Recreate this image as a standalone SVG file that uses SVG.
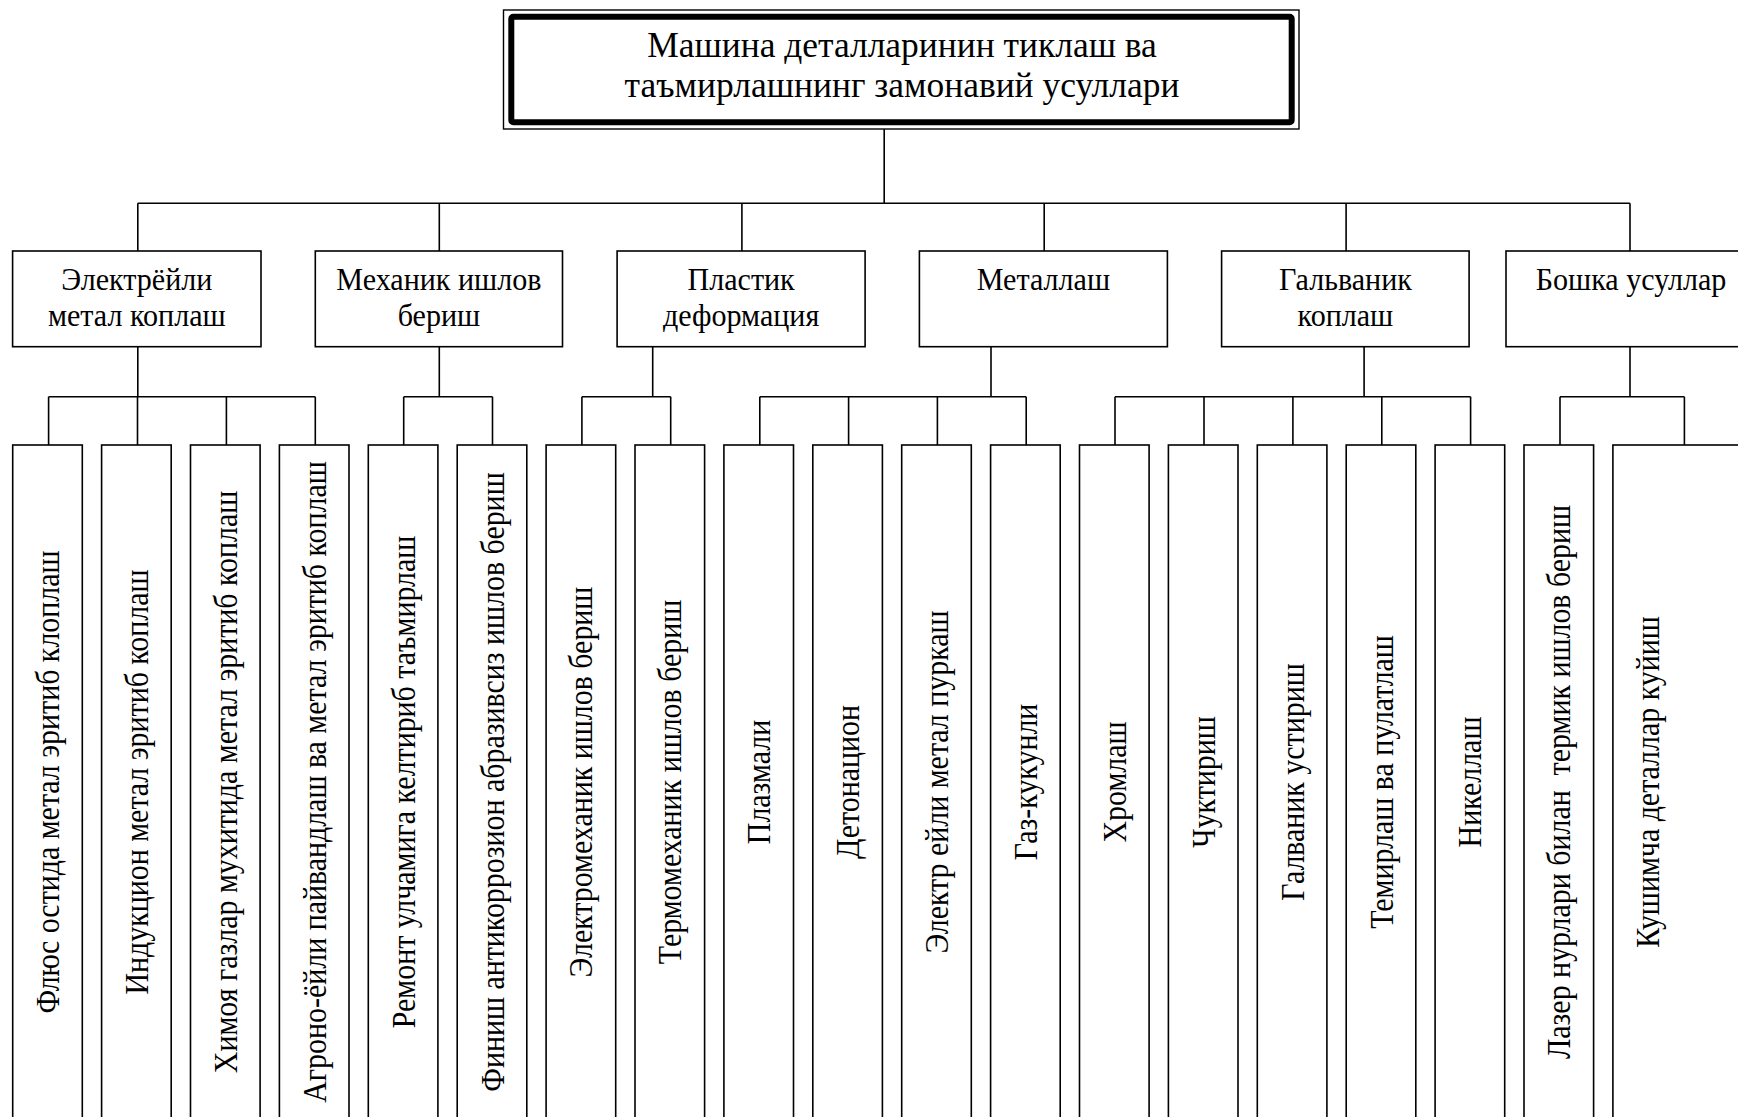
<svg xmlns="http://www.w3.org/2000/svg" width="1738" height="1117" viewBox="0 0 1738 1117">
<style>
.bx{fill:#fff;stroke:#000;stroke-width:1.6}
.ln{fill:none;stroke:#000;stroke-width:1.6}
.t{font-family:"Liberation Serif","Times New Roman",serif;font-size:34px;fill:#000;text-anchor:middle}
.th{font-family:"Liberation Serif","Times New Roman",serif;font-size:32px;fill:#000;text-anchor:middle}
.tr{font-family:"Liberation Serif","Times New Roman",serif;font-size:36px;fill:#000;text-anchor:middle}
</style>
<rect width="1738" height="1117" fill="#fff"/>
<g id="connectors" class="ln">
<path d="M884.2,129 V203.3 M137.8,203.3 H1630 M137.8,203.3 V251 M439.3,203.3 V251 M741.9,203.3 V251 M1044.2,203.3 V251 M1346.1,203.3 V251 M1630,203.3 V251"/>
<path d="M137.8,346.7 V396.7 M48.6,396.7 H315.3 M48.6,396.7 V445 M137.5,396.7 V445 M226.4,396.7 V445 M315.3,396.7 V445"/>
<path d="M439.3,346.7 V396.7 M403.7,396.7 H492.5 M403.7,396.7 V445 M492.5,396.7 V445"/>
<path d="M652.7,346.7 V396.7 M581.9,396.7 H670.7 M581.9,396.7 V445 M670.7,396.7 V445"/>
<path d="M991,346.7 V396.7 M759.8,396.7 H1026.2 M759.8,396.7 V445 M848.6,396.7 V445 M937.4,396.7 V445 M1026.2,396.7 V445"/>
<path d="M1364.1,346.7 V396.7 M1115,396.7 H1470.6 M1115,396.7 V445 M1204,396.7 V445 M1292.9,396.7 V445 M1381.8,396.7 V445 M1470.6,396.7 V445"/>
<path d="M1630,346.7 V396.7 M1560,396.7 H1684.4 M1560,396.7 V445 M1684.4,396.7 V445"/>
</g>
<g id="root">
<rect x="503.5" y="10" width="795.5" height="119" fill="#fff" stroke="#000" stroke-width="1.4"/>
<rect x="511.3" y="16.7" width="780.4" height="105.5" rx="2" fill="#fff" stroke="#000" stroke-width="6"/>
<text class="tr" transform="translate(902,57) scale(0.985,1)">Машина деталларинин тиклаш ва</text>
<text class="tr" transform="translate(902,97) scale(0.985,1)">таъмирлашнинг замонавий усуллари</text>
</g>
<g id="n1"><rect class="bx" x="12.6" y="251" width="248.4" height="95.7"/><text class="th" transform="translate(136.8,290) scale(0.94,1)">Электрёйли</text><text class="th" transform="translate(136.8,326) scale(0.94,1)">метал коплаш</text></g>
<g id="n2"><rect class="bx" x="315.3" y="251" width="247.2" height="95.7"/><text class="th" transform="translate(438.9,290) scale(0.94,1)">Механик ишлов</text><text class="th" transform="translate(438.9,326) scale(0.94,1)">бериш</text></g>
<g id="n3"><rect class="bx" x="617.1" y="251" width="248" height="95.7"/><text class="th" transform="translate(741.1,290) scale(0.94,1)">Пластик</text><text class="th" transform="translate(741.1,326) scale(0.94,1)">деформация</text></g>
<g id="n4"><rect class="bx" x="919.4" y="251" width="248" height="95.7"/><text class="th" transform="translate(1043.4,290) scale(0.94,1)">Металлаш</text></g>
<g id="n5"><rect class="bx" x="1221.6" y="251" width="247.5" height="95.7"/><text class="th" transform="translate(1345.4,290) scale(0.94,1)">Гальваник</text><text class="th" transform="translate(1345.4,326) scale(0.94,1)">коплаш</text></g>
<g id="n6"><rect class="bx" x="1506" y="251" width="250" height="95.7"/><text class="th" transform="translate(1631,290) scale(0.94,1)">Бошка усуллар</text></g>
<g id="c0"><rect class="bx" x="12.7" y="445" width="69.6" height="700"/><text class="t" transform="translate(59,782) rotate(-90) scale(0.88,1)">Флюс остида метал эритиб клоплаш</text></g>
<g id="c1"><rect class="bx" x="101.6" y="445" width="69.6" height="700"/><text class="t" transform="translate(147.9,782) rotate(-90) scale(0.88,1)">Индукцион метал эритиб коплаш</text></g>
<g id="c2"><rect class="bx" x="190.5" y="445" width="69.6" height="700"/><text class="t" transform="translate(236.8,782) rotate(-90) scale(0.88,1)">Химоя газлар мухитида метал эритиб коплаш</text></g>
<g id="c3"><rect class="bx" x="279.4" y="445" width="69.6" height="700"/><text class="t" transform="translate(325.7,782) rotate(-90) scale(0.88,1)">Агроно-ёйли пайвандлаш ва метал эритиб коплаш</text></g>
<g id="c4"><rect class="bx" x="368.3" y="445" width="69.6" height="700"/><text class="t" transform="translate(414.6,782) rotate(-90) scale(0.88,1)">Ремонт улчамига келтириб таъмирлаш</text></g>
<g id="c5"><rect class="bx" x="457.2" y="445" width="69.6" height="700"/><text class="t" transform="translate(503.5,782) rotate(-90) scale(0.88,1)">Финиш антикоррозион абразивсиз ишлов бериш</text></g>
<g id="c6"><rect class="bx" x="546.1" y="445" width="69.6" height="700"/><text class="t" transform="translate(592.4,782) rotate(-90) scale(0.88,1)">Электромеханик ишлов бериш</text></g>
<g id="c7"><rect class="bx" x="635" y="445" width="69.6" height="700"/><text class="t" transform="translate(681.3,782) rotate(-90) scale(0.88,1)">Термомеханик ишлов бериш</text></g>
<g id="c8"><rect class="bx" x="723.9" y="445" width="69.6" height="700"/><text class="t" transform="translate(770.2,782) rotate(-90) scale(0.88,1)">Плазмали</text></g>
<g id="c9"><rect class="bx" x="812.8" y="445" width="69.6" height="700"/><text class="t" transform="translate(859.1,782) rotate(-90) scale(0.88,1)">Детонацион</text></g>
<g id="c10"><rect class="bx" x="901.7" y="445" width="69.6" height="700"/><text class="t" transform="translate(948,782) rotate(-90) scale(0.88,1)">Электр ейли метал пуркаш</text></g>
<g id="c11"><rect class="bx" x="990.6" y="445" width="69.6" height="700"/><text class="t" transform="translate(1036.9,782) rotate(-90) scale(0.88,1)">Газ-кукунли</text></g>
<g id="c12"><rect class="bx" x="1079.5" y="445" width="69.6" height="700"/><text class="t" transform="translate(1125.8,782) rotate(-90) scale(0.88,1)">Хромлаш</text></g>
<g id="c13"><rect class="bx" x="1168.4" y="445" width="69.6" height="700"/><text class="t" transform="translate(1214.7,782) rotate(-90) scale(0.88,1)">Чуктириш</text></g>
<g id="c14"><rect class="bx" x="1257.3" y="445" width="69.6" height="700"/><text class="t" transform="translate(1303.6,782) rotate(-90) scale(0.88,1)">Галваник устириш</text></g>
<g id="c15"><rect class="bx" x="1346.2" y="445" width="69.6" height="700"/><text class="t" transform="translate(1392.5,782) rotate(-90) scale(0.88,1)">Темирлаш ва пулатлаш</text></g>
<g id="c16"><rect class="bx" x="1435.1" y="445" width="69.6" height="700"/><text class="t" transform="translate(1481.4,782) rotate(-90) scale(0.88,1)">Никеллаш</text></g>
<g id="c17"><rect class="bx" x="1524" y="445" width="69.6" height="700"/><text class="t" xml:space="preserve" transform="translate(1570.3,782) rotate(-90) scale(0.88,1)">Лазер нурлари билан  термик ишлов бериш</text></g>
<g id="c18"><rect class="bx" x="1612.9" y="445" width="143" height="700"/><text class="t" transform="translate(1659.2,782) rotate(-90) scale(0.88,1)">Кушимча деталлар куйиш</text></g>
</svg>
